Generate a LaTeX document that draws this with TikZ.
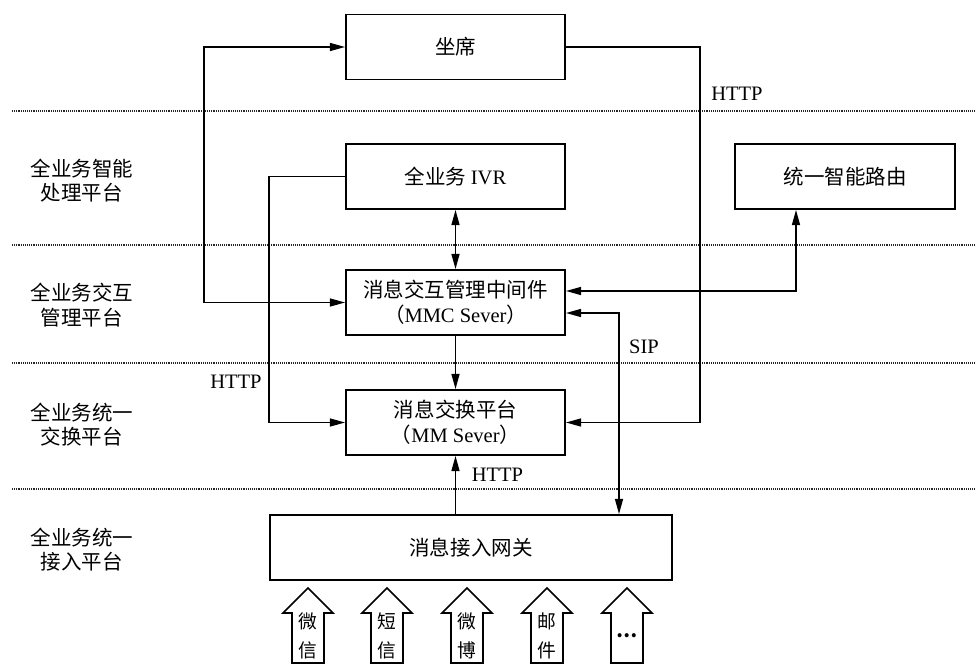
\documentclass[tikz,border=0pt]{standalone}
\usepackage{fontspec}
\setmainfont{Noto Sans CJK SC}
\newfontfamily\serifen{Liberation Serif}
\usetikzlibrary{arrows.meta,calc}

\begin{document}
\begin{tikzpicture}[x=0.03cm, y=-0.03cm, >={Triangle[length=4.6mm,width=2.4mm]}, every node/.style={font=\fontsize{17.5}{21}\selectfont}]
\tikzset{box/.style={draw, line width=1.5pt, minimum width=6.57cm, minimum height=1.95cm, align=center, inner sep=0pt}}
\tikzset{link/.style={line width=1.4pt}}
\tikzset{layer/.style={line width=1pt, black!85, dash pattern=on 0.8pt off 0.8pt}}
\tikzset{side/.style={align=center}}
\tikzset{proto/.style={font=\serifen\fontsize{17.5}{21}\selectfont}}
\useasboundingbox (0,0) rectangle (978,671);
\foreach \y in {111,245,363,489} \draw[layer] (12,\y) -- (975,\y);
\node[box] (seat) at (455.5,47) {坐席};
\node[box] (ivr) at (455.5,176.5) {全业务 {\serifen IVR}};
\node[box, minimum width=6.6cm] (route) at (845,176.5) {统一智能路由};
\node[box] (mmc) at (455.5,302.5) {消息交互管理中间件\\（{\serifen MMC Sever}）};
\node[box] (mm) at (455.5,422.5) {消息交换平台\\（{\serifen MM Sever}）};
\node[box, minimum width=12.06cm] (gw) at (471,547.5) {消息接入网关};
\node[side] (l1) at (82,180.5) {全业务智能\\处理平台};
\node[side] (l2) at (82,305) {全业务交互\\管理平台};
\node[side] (l3) at (82,424.5) {全业务统一\\交换平台};
\node[side] (l4) at (82,549.5) {全业务统一\\接入平台};
\draw[link,<->] (seat.west) -- ++(-141,0) |- (mmc.west);
\draw[link,->] (ivr.west) -- ++(-76,0) |- (mm.west);
\draw[link,<->] (ivr) -- (mmc);
\draw[link,->] (mmc) -- (mm);
\draw[link,->] (mm.south |- gw.north) -- (mm.south);
\draw[link,->] (seat.east) -- ++(134,0) |- (mm.east);
\draw[link,<->] ([yshift=0.345cm]mmc.east) -| ([xshift=-1.47cm]route.south);
\draw[link,<->] ([yshift=-0.315cm]mmc.east) -| ([xshift=4.44cm]gw.north);
\node[proto] (h1) at (737,94) {HTTP};
\node[proto] (h2) at (236,382) {HTTP};
\node[proto] (h3) at (497.5,475) {HTTP};
\node[proto] (sip) at (644,347) {SIP};
\foreach \x/\t [count=\i] in {308/{微\\信},387/{短\\信},467/{微\\博},547/{邮\\件},627/{\textbf{…}}} {
  \draw[link] (\x-16,663) -- (\x-16,613) -- (\x-25,613) -- (\x,588) -- (\x+25,613) -- (\x+16,613) -- (\x+16,663) -- cycle;
  \node[align=center, font=\fontsize{16}{25}\selectfont] (in\i) at (\x,636) {\t};
}
\end{tikzpicture}
\end{document}
